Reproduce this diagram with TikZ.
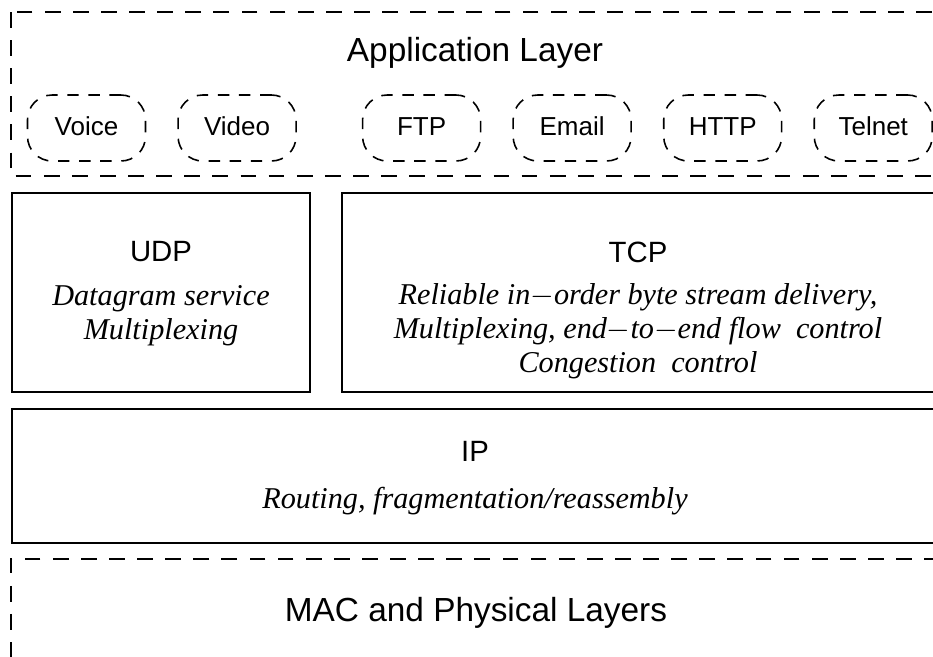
\documentclass[tikz,border=0pt]{standalone}
\usepackage{fontspec}
\setmainfont{Liberation Serif}
\setsansfont{Liberation Sans}
\usetikzlibrary{positioning}

\begin{document}
\begin{tikzpicture}[x=0.02cm, y=-0.02cm,
  dashline/.style={line width=0.9pt, dash pattern=on 9pt off 7pt},
  solidline/.style={line width=0.9pt},
  appoval/.style={draw, line width=0.9pt, dash pattern=on 6.5pt off 5.5pt, rounded corners=14pt,
    minimum width=2.36cm, minimum height=1.32cm, text height=11pt, text depth=3pt,
    font=\sffamily\fontsize{14.8}{17}\selectfont},
  bigtitle/.style={font=\sffamily\fontsize{19}{23}\selectfont},
  protitle/.style={font=\sffamily\fontsize{16.7}{20}\selectfont},
  duties/.style={font=\itshape\fontsize{17.2}{19.5}\selectfont, align=center}]
\useasboundingbox (0,0) rectangle (933,656);
\clip (0,0) rectangle (933,656);
% Application layer
\draw[dashline] (11,12) rectangle (940,176);
\node[bigtitle] (applabel) at (475,53) {Application Layer};
\node[appoval] (voice) at (86.5,128) {Voice};
\node[appoval, right=0.62cm of voice] (video) {Video};
\node[appoval, right=1.3cm of video] (ftp) {FTP};
\node[appoval, right=0.62cm of ftp] (email) {Email};
\node[appoval, right=0.62cm of email] (http) {HTTP};
\node[appoval, right=0.62cm of http] (telnet) {Telnet};
% UDP
\draw[solidline] (12,193) rectangle (310,392);
\node[protitle] (udplabel) at (161,252) {UDP};
\node[duties] (udptext) at (161,316) {Datagram service\\Multiplexing};
% TCP
\draw[solidline] (342,193) rectangle (935,392);
\node[protitle] (tcplabel) at (638,252) {TCP};
\node[duties] (tcptext) at (638,331) {Reliable in$-$order byte stream delivery,\\
  Multiplexing, end$-$to$-$end flow~ control\\Congestion~ control};
% IP
\draw[solidline] (12,409) rectangle (938,543);
\node[protitle] (iplabel) at (475,451) {IP};
\node[duties] (iptext) at (475,501) {Routing, fragmentation/reassembly};
% MAC and physical
\draw[dashline] (940,559) -- (11,559) -- (11,690);
\node[bigtitle] (maclabel) at (476,613) {MAC and Physical Layers};
\end{tikzpicture}
\end{document}
